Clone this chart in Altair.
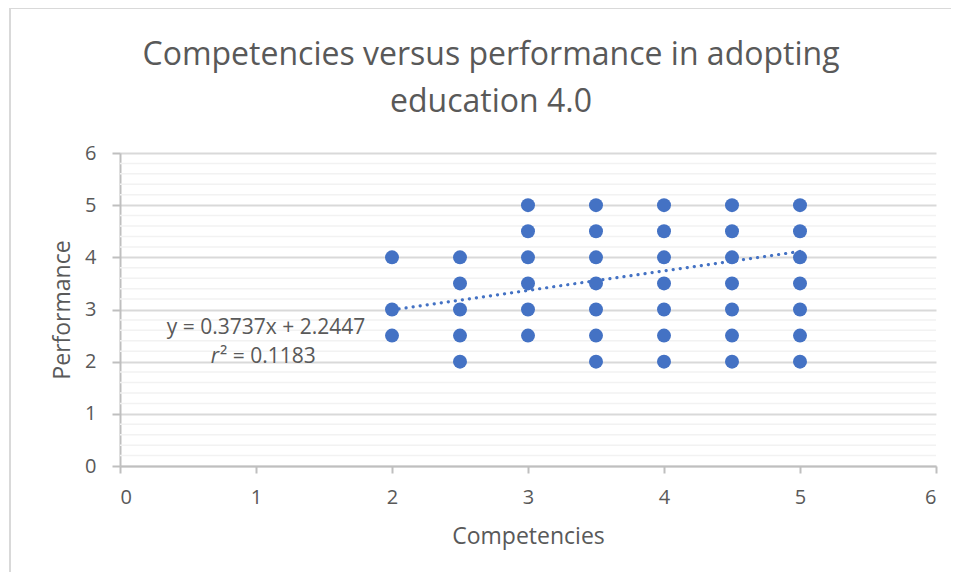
import altair as alt
import pandas as pd

# Scatter data (Competencies, Performance)
comp = [2, 2, 2,
        2.5, 2.5, 2.5, 2.5, 2.5,
        3, 3, 3, 3, 3, 3,
        3.5, 3.5, 3.5, 3.5, 3.5, 3.5, 3.5,
        4, 4, 4, 4, 4, 4, 4,
        4.5, 4.5, 4.5, 4.5, 4.5, 4.5, 4.5,
        5, 5, 5, 5, 5, 5, 5]
perf = [4, 3, 2.5,
        4, 3.5, 3, 2.5, 2,
        5, 4.5, 4, 3.5, 3, 2.5,
        5, 4.5, 4, 3.5, 3, 2.5, 2,
        5, 4.5, 4, 3.5, 3, 2.5, 2,
        5, 4.5, 4, 3.5, 3, 2.5, 2,
        5, 4.5, 4, 3.5, 3, 2.5, 2]

# Linear trendline shown in the chart: y = 0.3737x + 2.2447, drawn from x=2 to x=5
trend_x = [2, 5]
trend_y = [2.992, 4.113]

# Annotation text and its anchor (data coordinates)
eq_text = ["y = 0.3737x + 2.2447"]
eq_x = [1.074]
eq_y = [2.65]
r_x = [0.728]
r_y = [2.09]

# Chart title lines
title_lines = ["Competencies versus performance in adopting", "education 4.0"]
title_dy = [-88, -41]

# Minor gridlines (every 0.2)
minor_vals = [0.2, 0.4, 0.6, 0.8, 1.2, 1.4, 1.6, 1.8, 2.2, 2.4, 2.6, 2.8,
              3.2, 3.4, 3.6, 3.8, 4.2, 4.4, 4.6, 4.8, 5.2, 5.4, 5.6, 5.8]

FONT = "Open Sans"
GREY = "#595959"
BLUE = "#4472C4"
W, H = 816, 313

xscale = alt.Scale(domain=[0, 6], nice=False, zero=True)
yscale = alt.Scale(domain=[0, 6], nice=False, zero=True)
xaxis = alt.Axis(values=[0, 1, 2, 3, 4, 5, 6], format="d", grid=False,
                 title="Competencies", titlePadding=18)
yaxis = alt.Axis(values=[0, 1, 2, 3, 4, 5, 6], format="d", grid=True,
                 title="Performance", titlePadding=10, labelPadding=16)

pts = pd.DataFrame({"Competencies": comp, "Performance": perf})
trend = pd.DataFrame({"Competencies": trend_x, "Performance": trend_y})
minor = pd.DataFrame({"Performance": minor_vals})
eq = pd.DataFrame({"t": eq_text, "Competencies": eq_x, "Performance": eq_y})
rr = pd.DataFrame({"Competencies": r_x, "Performance": r_y})
tt = pd.DataFrame({"t": title_lines, "dy": title_dy})

X = alt.X("Competencies:Q", scale=xscale, axis=xaxis)
Y = alt.Y("Performance:Q", scale=yscale, axis=yaxis)

minor_rules = alt.Chart(minor).mark_rule(color="#F2F2F2", strokeWidth=1.5).encode(
    y=Y, x=alt.value(0), x2=alt.value(W),
)

scatter = alt.Chart(pts).mark_point(filled=True, size=195, color=BLUE, opacity=1).encode(
    x=X, y=Y,
)

trend_line = alt.Chart(trend).mark_line(
    color=BLUE, strokeWidth=3.2, strokeDash=[0.1, 7], strokeCap="round"
).encode(x=X, y=Y)

eq_label = alt.Chart(eq).mark_text(font=FONT, fontSize=21, color=GREY, align="center",
                                   baseline="middle").encode(x=X, y=Y, text="t:N")

r_label = alt.Chart(rr).mark_text(font=FONT, fontSize=21, color=GREY, align="right",
                                  baseline="middle", fontStyle="italic").encode(
    x=X, y=Y, text=alt.value("r"))

r_val = alt.Chart(rr).mark_text(font=FONT, fontSize=21, color=GREY, align="left",
                                baseline="middle", dx=1).encode(
    x=X, y=Y, text=alt.value("² = 0.1183"))

title = alt.Chart(tt).mark_text(font=FONT, fontSize=32, color=GREY, align="center",
                                baseline="alphabetic").encode(
    x=alt.value(371), y=alt.Y("dy:Q", scale=None), text="t:N")

border_left = alt.Chart(trend).mark_rule(color="#D9D9D9", strokeWidth=2).encode(
    x=alt.value(-110), y=alt.value(-145), y2=alt.value(H + 120))
border_top = alt.Chart(trend).mark_rule(color="#D9D9D9", strokeWidth=2).encode(
    y=alt.value(-145), x=alt.value(-110), x2=alt.value(W + 40))

chart = alt.layer(
    border_left, border_top, minor_rules, trend_line, scatter, eq_label, r_label, r_val, title
).properties(
    width=W, height=H,
    autosize=alt.AutoSizeParams(type="none"),
    padding={"left": 112, "top": 145, "right": 15, "bottom": 106},
).configure_view(stroke=None).configure_axis(
    labelFont=FONT, labelFontSize=20, labelColor=GREY,
    titleFont=FONT, titleFontSize=23, titleColor=GREY, titleFontWeight="normal",
    domainColor="#BFBFBF", domainWidth=2,
    tickColor="#BFBFBF", tickWidth=2, tickSize=8,
    gridColor="#D9D9D9", gridWidth=2,
).configure_axisX(labelPadding=14, tickSize=7)

chart.save("out.html", embed_options={"renderer": "svg", "actions": False})
